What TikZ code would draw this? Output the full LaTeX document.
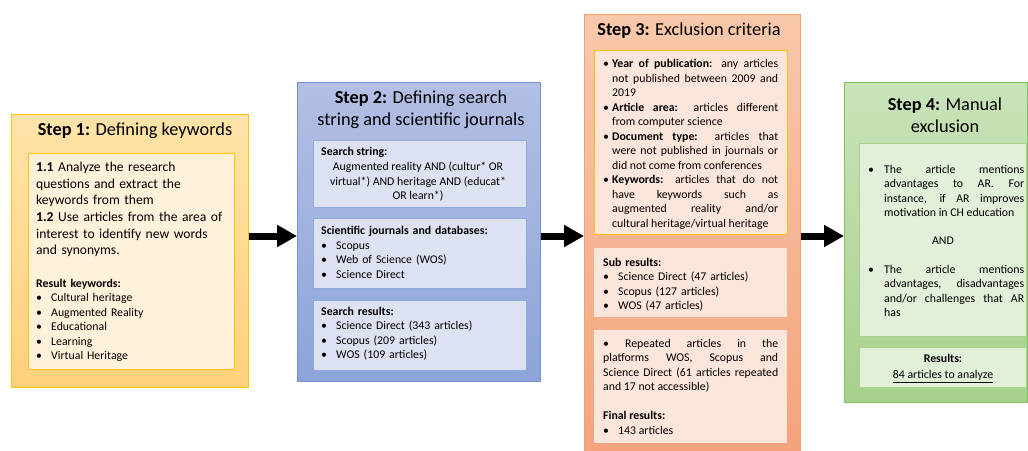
\documentclass[tikz,border=0pt]{standalone}
\usepackage{fontspec}
\setmainfont{Carlito}
\usetikzlibrary{positioning,arrows.meta}
\definecolor{yelA}{HTML}{FFE3A8}
\definecolor{yelB}{HTML}{FFD17C}
\definecolor{yelL}{HTML}{FFC000}
\definecolor{yelF}{HTML}{FFF1DA}
\definecolor{bluA}{HTML}{B3BFE4}
\definecolor{bluB}{HTML}{8CA4DA}
\definecolor{bluL}{HTML}{7393D3}
\definecolor{bluI}{HTML}{8EA9DB}
\definecolor{bluF}{HTML}{DCE2F2}
\definecolor{oraA}{HTML}{F8C8AA}
\definecolor{oraB}{HTML}{F4A37C}
\definecolor{oraL}{HTML}{F4A070}
\definecolor{oraF}{HTML}{FCE5DA}
\definecolor{grnA}{HTML}{C9E3B9}
\definecolor{grnB}{HTML}{A8D08C}
\definecolor{grnL}{HTML}{85C062}
\definecolor{grnI}{HTML}{A9D18E}
\definecolor{grnF}{HTML}{E2EFD9}
\newcommand{\smtxt}{\fontsize{11.8}{14.5}\selectfont}
\newcommand{\mdtxt}{\fontsize{13.6}{16.6}\selectfont}
\newcommand{\ttlsize}{\fontsize{18.3}{22}\selectfont}
\newcommand{\bul}[1]{\par\noindent\hangindent=#1\hangafter=1\makebox[#1][l]{\textbullet}}
\begin{document}
\begin{tikzpicture}[x=1pt,y=-1pt,
  box/.style={anchor=north west,inner sep=0pt,line width=0.9pt},
  txt/.style={anchor=north west,inner sep=0pt,align=left,font=\smtxt},
  jtxt/.style={anchor=north west,inner sep=0pt,align=justify,font=\smtxt},
  ttl/.style={anchor=center,inner sep=0pt,align=center,font=\ttlsize},
  arr/.style={line width=7pt,-{Triangle[length=20pt,width=21pt]}}]
\useasboundingbox (0,0) rectangle (1028,450);
\pgfmathsetmacro{\arY}{236}
\coordinate (arrow) at (0,\arY);
%
\node[box,draw=yelL,top color=yelA,bottom color=yelB,minimum width=237pt,minimum height=273pt](s1) at (11,114){};
\node[ttl](s1ttl) at (135,131){\textbf{Step 1:} Defining keywords};
\node[box,draw=yelL,fill=yelF,minimum width=206pt,minimum height=216pt](s1in) at (28,153){};
\node[txt,text width=194pt,font=\mdtxt](s1txt) at (36,162){\textbf{1.1} Analyze the research\\questions and extract the\\keywords from them\\\textbf{1.2} Use articles from the area of\\interest to identify new words\\and synonyms.};
\node[txt,text width=190pt](s1res) at (36,279){\textbf{Result keywords:}\bul{15pt}Cultural heritage\bul{15pt}Augmented Reality\bul{15pt}Educational\bul{15pt}Learning\bul{15pt}Virtual Heritage\par};
%
\node[box,draw=bluL,top color=bluA,bottom color=bluB,minimum width=243pt,minimum height=299pt](s2) at (297,82){};
\node[ttl](s2ttl) at (421,110){\textbf{Step 2:} Defining search\\string and scientific journals};
\node[box,draw=bluI,fill=bluF,minimum width=213pt,minimum height=67pt](s2a) at (313,140){};
\node[txt](s2ahead) at (321,147){\textbf{Search string:}};
\node[txt,align=center,anchor=north](s2atxt) at (418,162){Augmented reality AND (cultur* OR\\virtual*) AND heritage AND (educat*\\OR learn*)};
\node[box,draw=bluI,fill=bluF,minimum width=213pt,minimum height=70pt](s2b) at (313,218){};
\node[txt,text width=200pt](s2btxt) at (321,226){\textbf{Scientific journals and databases:}\bul{15pt}Scopus\bul{15pt}Web of Science (WOS)\bul{15pt}Science Direct\par};
\node[box,draw=bluI,fill=bluF,minimum width=213pt,minimum height=70pt](s2c) at (313,300){};
\node[txt,text width=200pt](s2ctxt) at (321,307){\textbf{Search results:}\bul{15pt}Science Direct (343 articles)\bul{15pt}Scopus (209 articles)\bul{15pt}WOS (109 articles)\par};
%
\node[box,draw=oraL,top color=oraA,bottom color=oraB,minimum width=216pt,minimum height=440pt](s3) at (584,14){};
\node[ttl](s3ttl) at (689,31){\textbf{Step 3:} Exclusion criteria};
\node[box,draw=yelL,fill=oraF,minimum width=193pt,minimum height=184pt](s3a) at (594,50){};
\node[jtxt,text width=175pt](s3atxt) at (603,53){%
\bul{9pt}\textbf{Year of publication:} any articles\linebreak not published between 2009 and\linebreak 2019%
\bul{9pt}\textbf{Article area:} articles different\linebreak from computer science%
\bul{9pt}\textbf{Document type:} articles that\linebreak were not published in journals or\linebreak did not come from conferences%
\bul{9pt}\textbf{Keywords:} articles that do not\linebreak have keywords such as\linebreak augmented reality and/or\linebreak cultural heritage/virtual heritage\par};
\node[box,fill=oraF,minimum width=193pt,minimum height=69pt](s3b) at (594,248){};
\node[txt,text width=180pt](s3btxt) at (603,258){\textbf{Sub results:}\bul{15pt}Science Direct (47 articles)\bul{15pt}Scopus (127 articles)\bul{15pt}WOS (47 articles)\par};
\node[box,fill=oraF,minimum width=193pt,minimum height=113pt](s3c) at (594,330){};
\node[jtxt,text width=175pt](s3ctxt) at (603,339){\textbullet{} Repeated articles in the\linebreak platforms WOS, Scopus and\linebreak Science Direct (61 articles repeated\linebreak and 17 not accessible)\par\vspace{14.5pt}\raggedright\textbf{Final results:}\bul{15pt}143 articles\par};
%
\node[box,draw=grnL,top color=grnA,bottom color=grnB,minimum width=183pt,minimum height=320pt](s4) at (844,82){};
\node[ttl](s4ttl) at (945,115){\textbf{Step 4:} Manual\\exclusion};
\node[box,draw=grnI,fill=grnF,minimum width=167pt,minimum height=193pt](s4a) at (859,143){};
\node[txt](s4abul) at (868,165){\vphantom{Thl}\textbullet};
\node[jtxt,text width=140pt](s4atxt) at (884,165){The article mentions\linebreak advantages to AR. For\linebreak instance, if AR improves\linebreak motivation in CH education\par};
\node[txt,anchor=center](s4and) at (943,241){AND};
\node[txt](s4bbul) at (868,265){\vphantom{Thl}\textbullet};
\node[jtxt,text width=140pt](s4btxt) at (884,265){The article mentions\linebreak advantages, disadvantages\linebreak and/or challenges that AR\linebreak has\par};
\node[box,draw=grnI,fill=grnF,minimum width=167pt,minimum height=40pt](s4b) at (859,347){};
\node[txt,align=center,anchor=north](s4btxt) at (943,354){\textbf{Results:}\\[1.5pt]\underline{84 articles to analyze}};
%
\draw[arr](s1.east|-arrow)--(s2.west|-arrow);
\draw[arr](s2.east|-arrow)--(s3.west|-arrow);
\draw[arr](s3.east|-arrow)--(s4.west|-arrow);
\end{tikzpicture}
\end{document}
